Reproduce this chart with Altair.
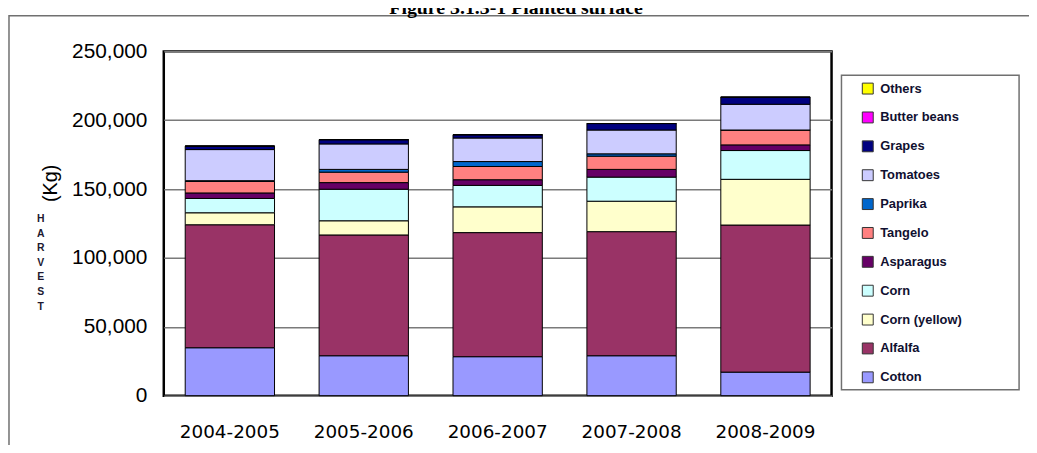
import altair as alt
import pandas as pd

years = ["2004-2005", "2005-2006", "2006-2007", "2007-2008", "2008-2009"]
crops = ["Others", "Butter beans", "Grapes", "Tomatoes", "Paprika", "Tangelo",
         "Asparagus", "Corn", "Corn (yellow)", "Alfalfa", "Cotton"]
colors = ["#FFFF00", "#FF00FF", "#000080", "#CCCCFF", "#0066CC", "#FF8080",
          "#660066", "#CCFFFF", "#FFFFCC", "#993366", "#9999FF"]

cotton = [34800, 29000, 28300, 29000, 17100]
alfalfa = [89300, 87700, 90100, 90100, 106800]
corn_yellow = [8700, 10300, 18700, 22100, 33200]
corn = [10400, 22900, 15600, 17500, 20900]
asparagus = [4000, 4800, 4100, 5600, 4100]
tangelo = [8400, 7600, 9600, 9600, 10800]
paprika = [500, 2000, 3600, 1700, 0]
tomatoes = [22600, 18500, 17100, 17300, 18700]
grapes = [2500, 3100, 2400, 4700, 5100]
butter_beans = [0, 0, 0, 0, 0]
others = [0, 0, 0, 0, 0]

y_ticks = [0, 50000, 100000, 150000, 200000, 250000]
title_text = "Figure 3.1.3-1 Planted surface"
y_unit = "(Kg)"
y_word = "HARVEST"

series = {
    "Cotton": cotton, "Alfalfa": alfalfa, "Corn (yellow)": corn_yellow,
    "Corn": corn, "Asparagus": asparagus, "Tangelo": tangelo,
    "Paprika": paprika, "Tomatoes": tomatoes, "Grapes": grapes,
    "Butter beans": butter_beans, "Others": others,
}
stack_order = ["Cotton", "Alfalfa", "Corn (yellow)", "Corn", "Asparagus", "Tangelo",
               "Paprika", "Tomatoes", "Grapes", "Butter beans", "Others"]
rows = []
for crop in stack_order:
    for yr, v in zip(years, series[crop]):
        rows.append({"year": yr, "crop": crop, "value": v, "ord": stack_order.index(crop)})
df = pd.DataFrame(rows)

W, H = 673, 347

bars = alt.Chart(df).mark_bar(stroke="#000000", strokeWidth=1).encode(
    x=alt.X("year:N", sort=years,
            scale=alt.Scale(paddingInner=0.333, paddingOuter=0.16),
            axis=alt.Axis(title=None, labelAngle=0, labelFont="DejaVu Sans",
                          labelFontSize=18.5, labelColor="#000000", labelPadding=27,
                          ticks=False, domain=False, grid=False)),
    y=alt.Y("value:Q", stack="zero",
            scale=alt.Scale(domain=[0, 250000], nice=False),
            axis=alt.Axis(title=None, values=y_ticks, format=",.0f",
                          labelFont="Liberation Sans", labelFontSize=21,
                          labelColor="#000000", labelPadding=17, ticks=False,
                          domain=False, grid=True, gridColor="#7a7a7a", gridWidth=1.5)),
    color=alt.Color("crop:N",
                    scale=alt.Scale(domain=crops, range=colors),
                    legend=alt.Legend(title=None, orient="none", legendX=703, legendY=31,
                                      symbolType="square", symbolSize=121,
                                      symbolStrokeColor="#333333", symbolStrokeWidth=1,
                                      symbolOpacity=1,
                                      labelFont="Liberation Sans", labelFontWeight="bold",
                                      labelFontSize=13, labelColor="#101030",
                                      labelOffset=6, rowPadding=14.1, padding=0)),
    order=alt.Order("ord:Q", sort="ascending"),
)

one = pd.DataFrame({"t": [title_text]})
title = alt.Chart(one).mark_text(font="Liberation Serif", fontSize=20, fontWeight="bold",
                                 align="center", baseline="alphabetic", color="#000000").encode(
    text="t:N", x=alt.value(355), y=alt.value(-38))

unit = alt.Chart(pd.DataFrame({"t": [y_unit]})).mark_text(
    font="Liberation Sans", fontSize=20, angle=270, align="center", baseline="middle",
    color="#000000").encode(text="t:N", x=alt.value(-114), y=alt.value(133))

word = alt.Chart(pd.DataFrame({"t": ["\n".join(list(y_word))]})).mark_text(
    font="Liberation Sans", fontSize=10.5, fontWeight="bold", align="center",
    baseline="top", lineBreak="\n", lineHeight=14.7, color="#201830").encode(
    text="t:N", x=alt.value(-124), y=alt.value(164))

frame = alt.Chart(pd.DataFrame({"a": [1]})).mark_rect(
    fill="transparent", stroke="#707070", strokeWidth=1.5).encode(
    x=alt.value(-156), x2=alt.value(900), y=alt.value(-36), y2=alt.value(450))

legend_box = alt.Chart(pd.DataFrame({"a": [1]})).mark_rect(
    fill="#ffffff", stroke="#707070", strokeWidth=1.5).encode(
    x=alt.value(683), x2=alt.value(862), y=alt.value(24), y2=alt.value(341))

chart = alt.layer(frame, legend_box, bars, title, unit, word).properties(
    width=W, height=H,
    autosize=alt.AutoSizeParams(type="none"),
    padding={"left": 157, "top": 42, "right": 199, "bottom": 48},
).configure_view(stroke="#000000", strokeWidth=2.5)

chart.save("out.html", embed_options={"renderer": "svg", "actions": False})
